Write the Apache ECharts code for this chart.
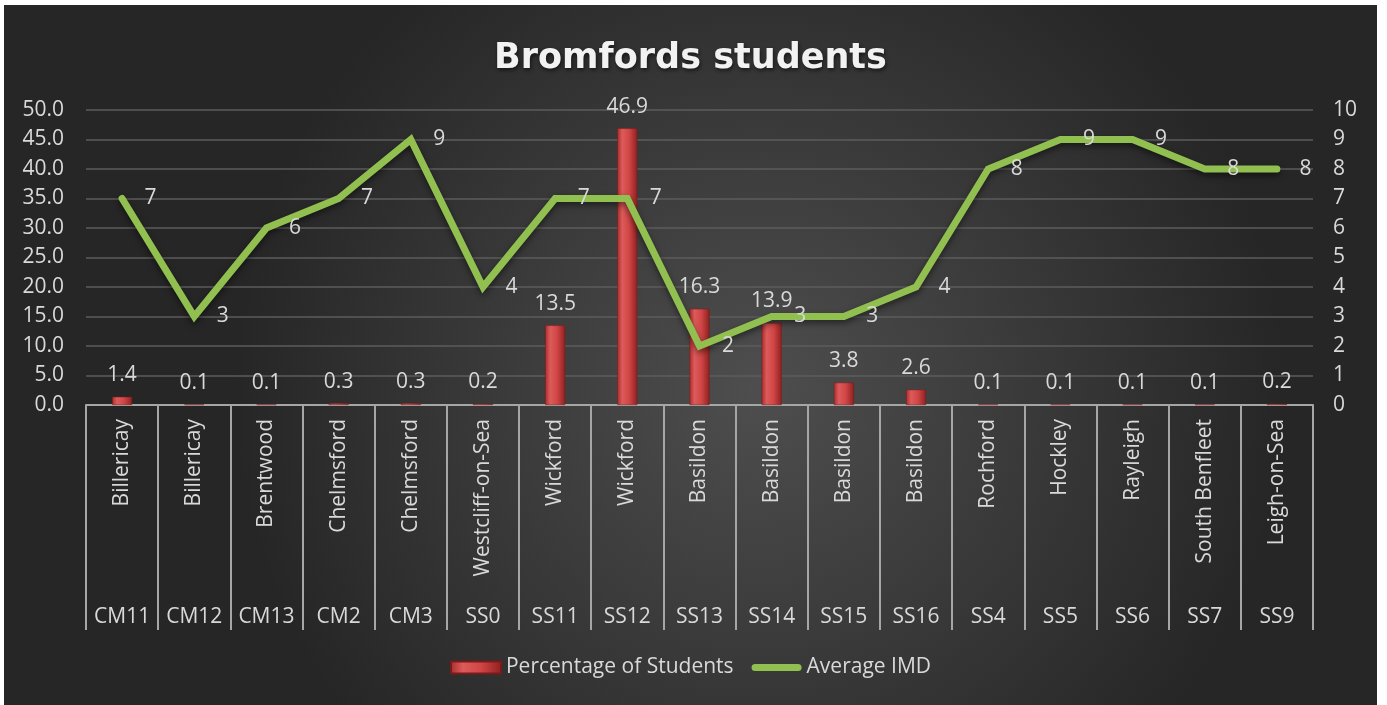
<!DOCTYPE html>
<html>
<head>
<meta charset="utf-8">
<script src="https://cdn.jsdelivr.net/npm/echarts@6/dist/echarts.min.js"></script>
<style>
html,body{margin:0;padding:0;background:#ffffff;}
#chart{position:absolute;left:4px;top:5px;width:1373px;height:700px;}
</style>
</head>
<body>
<div id="chart"></div>
<script>
const towns = ["Billericay","Billericay","Brentwood","Chelmsford","Chelmsford","Westcliff-on-Sea","Wickford","Wickford","Basildon","Basildon","Basildon","Basildon","Rochford","Hockley","Rayleigh","South Benfleet","Leigh-on-Sea"];
const postcodes = ["CM11","CM12","CM13","CM2","CM3","SS0","SS11","SS12","SS13","SS14","SS15","SS16","SS4","SS5","SS6","SS7","SS9"];
const percentageOfStudents = [1.4,0.1,0.1,0.3,0.3,0.2,13.5,46.9,16.3,13.9,3.8,2.6,0.1,0.1,0.1,0.1,0.2];
const averageIMD = [7,3,6,7,9,4,7,7,2,3,3,4,8,9,9,8,8];

const FONT = "Open Sans";
const TXT = "#d9d9d9";
const FS = 21;

const chart = echarts.init(document.getElementById('chart'));
chart.setOption({
  backgroundColor: {
    type: 'radial', x: 0.55, y: 0.55, r: 0.75,
    colorStops: [
      {offset: 0, color: '#4e4e4e'},
      {offset: 1, color: '#262626'}
    ]
  },
  textStyle: {fontFamily: FONT},
  title: {
    text: 'Bromfords students',
    left: 'center',
    top: 31,
    textStyle: {
      fontFamily: 'DejaVu Sans', fontSize: 35, fontWeight: 'bold', color: '#f2f2f2',
      textShadowColor: 'rgba(0,0,0,0.6)', textShadowBlur: 4, textShadowOffsetX: 1, textShadowOffsetY: 2
    }
  },
  legend: {
    bottom: 22,
    left: 'center',
    itemWidth: 50,
    itemHeight: 12,
    itemGap: 18,
    textStyle: {color: TXT, fontSize: FS, fontFamily: FONT},
    data: [
      {name: 'Percentage of Students', icon: 'rect'},
      {name: 'Average IMD', icon: 'path://M3.5,0 L46.5,0 A3.5,3.5 0 0 1 46.5,7 L3.5,7 A3.5,3.5 0 0 1 3.5,0 Z'}
    ]
  },
  grid: {left: 82, right: 64, top: 105, bottom: 300, containLabel: false},
  xAxis: [
    {
      type: 'category',
      data: towns,
      boundaryGap: true,
      position: 'bottom',
      axisLine: {show: true, lineStyle: {color: '#a6a6a6', width: 2}},
      axisTick: {show: true, length: 225, interval: 0, lineStyle: {color: '#a6a6a6', width: 2}},
      axisLabel: {interval: 0, rotate: 90, margin: 14, color: TXT, fontSize: FS, fontFamily: FONT},
      splitLine: {show: false}
    },
    {
      type: 'category',
      data: postcodes,
      boundaryGap: true,
      position: 'bottom',
      offset: 194,
      axisLine: {show: false},
      axisTick: {show: false},
      axisLabel: {interval: 0, margin: 8, color: TXT, fontSize: FS, fontFamily: FONT},
      splitLine: {show: false}
    }
  ],
  yAxis: [
    {
      type: 'value', min: 0, max: 50, interval: 5, position: 'left',
      axisLine: {show: false}, axisTick: {show: false},
      axisLabel: {color: TXT, fontSize: FS, margin: 22, fontFamily: FONT, formatter: v => v.toFixed(1)},
      splitLine: {show: true, lineStyle: {color: '#5c5c5c', width: 1.5}}
    },
    {
      type: 'value', min: 0, max: 10, interval: 1, position: 'right',
      axisLine: {show: false}, axisTick: {show: false},
      axisLabel: {color: TXT, fontSize: FS, margin: 20, fontFamily: FONT},
      splitLine: {show: false}
    }
  ],
  series: [
    {
      name: 'Percentage of Students',
      type: 'bar',
      xAxisIndex: 0,
      yAxisIndex: 0,
      data: percentageOfStudents,
      barWidth: 20,
      itemStyle: {
        color: {
          type: 'linear', x: 0, y: 0, x2: 1, y2: 0,
          colorStops: [
            {offset: 0, color: '#a82c2c'},
            {offset: 0.25, color: '#dd5b5b'},
            {offset: 0.6, color: '#d04545'},
            {offset: 1, color: '#8e2020'}
          ]
        },
        borderColor: '#7a1a1a', borderWidth: 0.5
      },
      label: {
        show: true, position: 'top', distance: 11,
        color: TXT, fontSize: FS, fontFamily: FONT,
        formatter: p => p.value.toFixed(1)
      },
      z: 2
    },
    {
      name: 'Average IMD',
      type: 'line',
      xAxisIndex: 0,
      yAxisIndex: 1,
      data: averageIMD,
      symbol: 'circle',
      symbolSize: 1,
      showSymbol: true,
      lineStyle: {color: '#92c050', width: 7, cap: 'round', join: 'miter',
        shadowColor: 'rgba(0,0,0,0.5)', shadowBlur: 6, shadowOffsetY: 3},
      itemStyle: {color: '#92c050'},
      label: {
        show: true, position: 'right', distance: 22,
        color: TXT, fontSize: FS, fontFamily: FONT
      },
      z: 3
    }
  ]
});
</script>
</body>
</html>
